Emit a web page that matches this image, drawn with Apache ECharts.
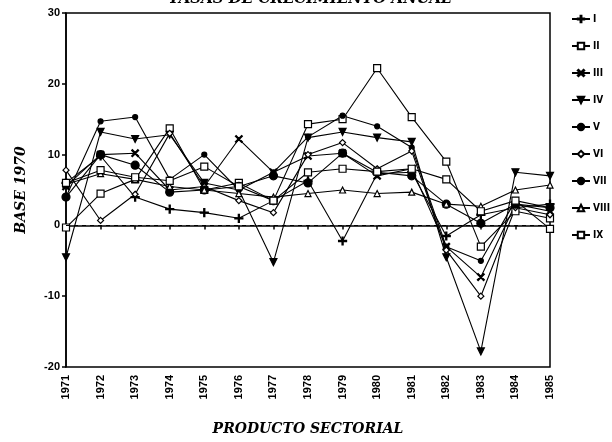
<!DOCTYPE html>
<html>
<head>
<meta charset="utf-8">
<script src="https://cdn.jsdelivr.net/npm/echarts@6/dist/echarts.min.js"></script>
<style>html,body{margin:0;padding:0;background:#fff}#main{width:612px;height:442px}</style>
</head>
<body>
<div id="main"></div>
<script>
// años del producto sectorial
var years = ['1971','1972','1973','1974','1975','1976','1977','1978','1979','1980','1981','1982','1983','1984','1985'];
var yTicks = [-20, -10, 0, 10, 20, 30];

var sI    = [6.0, 9.8, 4.0, 2.3, 1.8, 1.0, 3.5, 6.3, -2.2, 7.3, 7.5, -1.5, 1.5, 2.5, 3.0];
var sII   = [-0.3, 4.5, 6.5, 13.7, 5.0, 6.0, 3.5, 14.3, 15.0, 22.2, 15.3, 9.0, -3.0, 2.0, 1.0];
var sIII  = [5.5, 10.0, 10.2, 5.0, 5.5, 12.2, 7.5, 9.8, 10.2, 7.0, 8.0, -3.0, -7.3, 3.0, 2.0];
var sIV   = [-4.5, 13.2, 12.2, 12.8, 6.0, 5.0, -5.2, 12.4, 13.2, 12.4, 11.8, -4.5, -17.8, 7.5, 7.0];
var sV    = [4.0, 14.7, 15.3, 6.5, 10.0, 5.0, 7.5, 12.5, 15.5, 14.0, 11.0, -3.0, -5.0, 3.5, 2.5];
var sVI   = [7.8, 0.7, 4.4, 13.0, 5.5, 3.5, 1.8, 10.0, 11.7, 8.0, 10.5, -3.5, -10.0, 2.5, 1.5];
var sVII  = [4.0, 10.0, 8.5, 4.7, 5.0, 5.5, 7.0, 6.0, 10.2, 7.5, 7.0, 3.0, 0.3, 3.0, 2.5];
var sVIII = [5.8, 7.3, 6.5, 5.5, 5.0, 4.5, 4.0, 4.5, 5.0, 4.5, 4.7, 3.0, 2.7, 5.0, 5.7];
var sIX   = [6.0, 7.8, 6.8, 6.3, 8.3, 5.5, 3.5, 7.5, 8.0, 7.6, 8.0, 6.5, 2.0, 3.5, -0.5];

var names = ['I','II','III','IV','V','VI','VII','VIII','IX'];
var datas = [sI, sII, sIII, sIV, sV, sVI, sVII, sVIII, sIX];

// marcadores de cada serie
var plus = 'path://M0,4.3h10v1.4h-10zM4.3,0h1.4v10h-1.4z';
var cross = 'path://M0.5,1.5l1,-1l8,8l-1,1zM8.5,0.5l1,1l-8,8l-1,-1z';
var marks = [
    {symbol: plus, size: 8, fill: '#000'},
    {symbol: 'rect', size: 7, fill: '#fff'},
    {symbol: cross, size: 7, fill: '#000'},
    {symbol: 'triangle', size: 7, fill: '#000', rotate: 180},
    {symbol: 'circle', size: 5, fill: '#000'},
    {symbol: 'diamond', size: 6, fill: '#fff'},
    {symbol: 'circle', size: 8, fill: '#000'},
    {symbol: 'triangle', size: 6, fill: '#fff'},
    {symbol: 'rect', size: 7, fill: '#fff'}
];

var series = names.map(function (n, i) {
    var m = marks[i];
    var s = {
        name: n,
        type: 'line',
        data: datas[i],
        symbol: m.symbol,
        symbolSize: m.size,
        symbolRotate: m.rotate || 0,
        showAllSymbol: true,
        lineStyle: {color: '#000', width: 1.1},
        itemStyle: {color: m.fill, borderColor: '#000', borderWidth: 1.2},
        emphasis: {disabled: true},
        animation: false
    };
    if (i === 0) {
        s.markLine = {
            silent: true,
            symbol: 'none',
            label: {show: false},
            lineStyle: {color: '#000', type: [4, 4], width: 1},
            data: [{yAxis: 0}]
        };
    }
    return s;
});

var myChart = echarts.init(document.getElementById('main'));
var option = {
    backgroundColor: '#fff',
    animation: false,
    title: {
        text: 'TASAS DE CRECIMIENTO ANUAL',
        left: 305,
        textAlign: 'center',
        top: -13,
        textStyle: {fontFamily: 'DejaVu Serif', fontStyle: 'italic', fontWeight: 'bold', fontSize: 15, color: '#000'}
    },
    legend: {
        orient: 'vertical',
        left: 566,
        top: 9,
        itemWidth: 18,
        itemHeight: 8,
        itemGap: 17,
        textStyle: {fontFamily: 'DejaVu Sans Condensed', fontWeight: 'bold', fontSize: 10, color: '#000', padding: [0, 0, 0, -2]},
        data: names
    },
    grid: {left: 66, right: 62, top: 13, bottom: 75, show: true, borderColor: '#000', borderWidth: 1.5},
    xAxis: {
        type: 'category',
        data: years,
        boundaryGap: false,
        name: 'PRODUCTO SECTORIAL',
        nameLocation: 'middle',
        nameGap: 55,
        nameTextStyle: {fontFamily: 'DejaVu Serif', fontStyle: 'italic', fontWeight: 'bold', fontSize: 14, color: '#000'},
        axisLine: {lineStyle: {color: '#000', width: 1.5}},
        axisTick: {alignWithLabel: true, length: 4, lineStyle: {color: '#000', width: 1.5}},
        axisLabel: {rotate: 90, margin: 8, fontFamily: 'Liberation Sans', fontWeight: 'bold', fontSize: 11, color: '#000'},
        splitLine: {show: false}
    },
    yAxis: {
        type: 'value',
        min: -20,
        max: 30,
        interval: 10,
        name: 'BASE 1970',
        nameLocation: 'middle',
        nameGap: 38,
        nameTextStyle: {fontFamily: 'DejaVu Serif', fontStyle: 'italic', fontWeight: 'bold', fontSize: 14, color: '#000'},
        axisLine: {show: true, lineStyle: {color: '#000', width: 1.5}},
        axisTick: {show: true, length: 4, lineStyle: {color: '#000', width: 1.5}},
        axisLabel: {fontFamily: 'Liberation Sans', fontWeight: 'bold', fontSize: 11, color: '#000', margin: 6,
            formatter: function (v) { return yTicks.indexOf(v) >= 0 ? String(v) : ''; }},
        splitLine: {show: false}
    },
    series: series
};
myChart.setOption(option);
</script>
</body>
</html>
